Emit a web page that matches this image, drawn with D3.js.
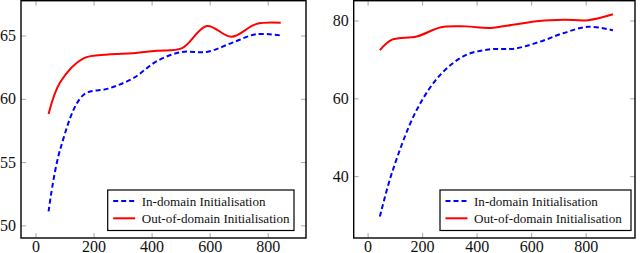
<!DOCTYPE html>
<html>
<head>
<meta charset="utf-8">
<script src="https://cdn.jsdelivr.net/npm/d3@7"></script>
<style>
  body { margin: 0; background: #fff; }
</style>
</head>
<body>
<div id="chart"></div>
<script>

    // left panel data
    var xLeft = [45, 85, 165, 250, 335, 420, 505, 590, 675, 760, 845];
    var inLeft = [51.1, 56.0, 60.3, 60.8, 61.6, 63.0, 63.7, 63.7, 64.4, 65.1, 65.0];
    var outLeft = [58.8, 61.3, 63.2, 63.5, 63.6, 63.8, 64.0, 65.75, 64.9, 65.9, 66.0];

    // right panel data
    var xRight = [45, 90, 180, 270, 360, 450, 540, 630, 720, 810, 900];
    var inRight = [29.6, 41.0, 57.0, 66.3, 71.1, 72.6, 72.8, 74.5, 76.8, 78.4, 77.5];
    var outRight = [72.4, 75.1, 75.9, 78.3, 78.5, 78.1, 79.0, 79.9, 80.2, 80.1, 81.6];

    var xTicks = [0, 200, 400, 600, 800];
    var yTicksLeft = [50, 55, 60, 65];
    var yTicksRight = [40, 60, 80];
    var seriesNames = ["In-domain Initialisation", "Out-of-domain Initialisation"];

    var W = 640, H = 253;
    var serif = "'Liberation Serif', serif";
    var svg = d3.select("#chart").append("svg")
        .attr("width", W)
        .attr("height", H)
        .style("display", "block")
        .style("font-family", serif);

    // legend font size so the first label is ~124px wide, like the reference
    var probe = svg.append("text").style("font-family", serif).attr("font-size", 20).text(seriesNames[0]);
    var legendFont = 20 * 124 / probe.node().getComputedTextLength();
    probe.remove();

    function panel(opt) {
        var x = d3.scaleLinear().domain(opt.xDomain).range([opt.left, opt.right]);
        var y = d3.scaleLinear().domain(opt.yDomain).range([opt.bottom, opt.top]);
        var g = svg.append("g");

        // ticks (inward, grey) on all four sides
        var tickCol = "#a8a8a8";
        function style(a) {
            a.attr("font-family", null).attr("font-size", 16);
            a.select(".domain").remove();
            a.selectAll("line").attr("stroke", tickCol);
            a.selectAll("text").attr("fill", "#111").style("font-family", serif);
        }
        g.append("g")
            .attr("transform", "translate(0," + opt.bottom + ")")
            .call(d3.axisBottom(x).tickValues(xTicks).tickSize(-5).tickPadding(3).tickFormat(d3.format("d")))
            .call(style);
        g.append("g")
            .attr("transform", "translate(0," + opt.top + ")")
            .call(d3.axisTop(x).tickValues(xTicks).tickSize(-5).tickFormat(""))
            .call(style);
        g.append("g")
            .attr("transform", "translate(" + opt.left + ",0)")
            .call(d3.axisLeft(y).tickValues(opt.yTicks).tickSize(-5).tickPadding(5).tickFormat(d3.format("d")))
            .call(style);
        g.append("g")
            .attr("transform", "translate(" + opt.right + ",0)")
            .call(d3.axisRight(y).tickValues(opt.yTicks).tickSize(-5).tickFormat(""))
            .call(style);

        // curves
        var line = d3.line()
            .x(function (d) { return x(d[0]); })
            .y(function (d) { return y(d[1]); })
            .curve(d3.curveCatmullRom.alpha(0.5));

        g.append("path")
            .datum(d3.zip(opt.xs, opt.inVals))
            .attr("d", line)
            .attr("fill", "none")
            .attr("stroke", "#0000ff")
            .attr("stroke-width", 2)
            .attr("stroke-dasharray", "5,3");
        g.append("path")
            .datum(d3.zip(opt.xs, opt.outVals))
            .attr("d", line)
            .attr("fill", "none")
            .attr("stroke", "#ff0000")
            .attr("stroke-width", 2);

        // frame
        g.append("rect")
            .attr("x", opt.left).attr("y", opt.top)
            .attr("width", opt.right - opt.left)
            .attr("height", opt.bottom - opt.top)
            .attr("fill", "none")
            .attr("stroke", "#000")
            .attr("stroke-width", 1.4);

        // legend
        var lg = g.append("g");
        lg.append("rect")
            .attr("x", opt.lgX).attr("y", opt.lgY)
            .attr("width", opt.lgW).attr("height", 40.5)
            .attr("fill", "#fff")
            .attr("stroke", "#000")
            .attr("stroke-width", 1.2);
        var styles = [
            { c: "#0000ff", dash: "5,3" },
            { c: "#ff0000", dash: null }
        ];
        seriesNames.forEach(function (name, i) {
            var cy = opt.lgY + 11 + i * 17.3;
            lg.append("line")
                .attr("x1", opt.lgX + 5.5).attr("x2", opt.lgX + 27.5)
                .attr("y1", cy).attr("y2", cy)
                .attr("stroke", styles[i].c)
                .attr("stroke-width", 2)
                .attr("stroke-dasharray", styles[i].dash);
            lg.append("text")
                .attr("x", opt.lgX + 34)
                .attr("y", cy + 4.5)
                .style("font-family", serif)
                .attr("font-size", legendFont)
                .attr("fill", "#111")
                .text(name);
        });
    }

    panel({
        left: 21, right: 306, top: 0.7, bottom: 238,
        xDomain: [-50, 932], yDomain: [49, 67.75],
        yTicks: yTicksLeft,
        xs: xLeft, inVals: inLeft, outVals: outLeft,
        lgX: 107.7, lgY: 190, lgW: 186.3
    });

    panel({
        left: 353.7, right: 635, top: 0.7, bottom: 238,
        xDomain: [-51, 981], yDomain: [24.1, 85.1],
        yTicks: yTicksRight,
        xs: xRight, inVals: inRight, outVals: outRight,
        lgX: 440, lgY: 190, lgW: 191
    });

</script>
</body>
</html>
